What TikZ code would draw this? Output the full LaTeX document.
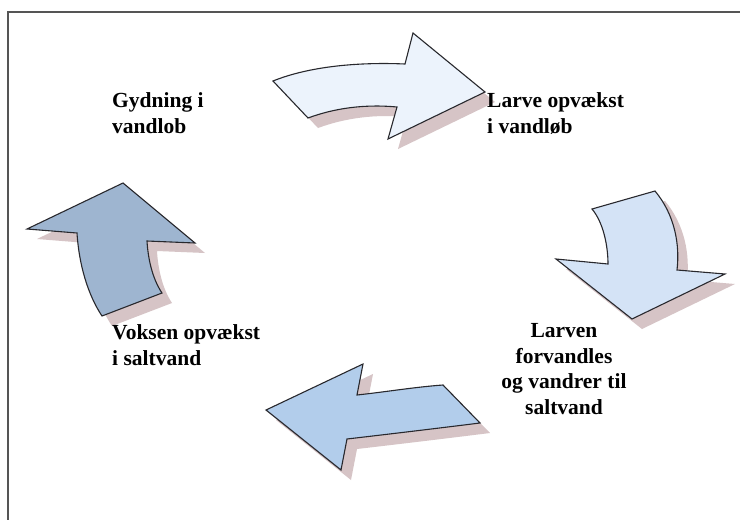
\documentclass[tikz,border=0pt]{standalone}
\usepackage{fontspec}
\setmainfont{Liberation Serif}
\usetikzlibrary{positioning}
\definecolor{framecol}{RGB}{85,85,85}
\definecolor{edgecol}{RGB}{40,40,45}
\definecolor{shadowcol}{RGB}{214,196,198}
\definecolor{topcol}{RGB}{236,243,252}
\definecolor{rightcol}{RGB}{212,227,246}
\definecolor{bottomcol}{RGB}{178,205,235}
\definecolor{leftcol}{RGB}{158,181,208}
\newcommand{\arrowtop}{(273,81) .. controls (310,66) and (360,62) .. (405,64) -- (413,33) -- (485,92) -- (388,139) -- (397,107) .. controls (365,104) and (335,108) .. (308,118) -- cycle}
\newcommand{\arrowright}{(592,209) -- (655,191) .. controls (675,215) and (680,245) .. (677,270) -- (725,274) -- (632,319) -- (556,259) -- (608,264) .. controls (608,245) and (603,222) .. (592,209) -- cycle}
\newcommand{\arrowbottom}{(266,410) -- (363,364) -- (357,395) .. controls (385,392) and (415,387) .. (443,385) -- (480,423) .. controls (440,428) and (390,434) .. (347,439) -- (341,470) -- cycle}
\newcommand{\arrowleft}{(123,183) -- (195,243) -- (147,241) .. controls (148,258) and (152,278) .. (162,293) -- (102,316) .. controls (88,295) and (79,265) .. (77,233) -- (27,229) -- cycle}

\begin{document}
\begin{tikzpicture}[x=1pt, y=-1pt,
    blockarrow/.style={draw=edgecol, line width=1.1pt, line join=miter},
    dropshadow/.style={fill=shadowcol, shift={(10,10)}},
    stagetext/.style={font=\bfseries\fontsize{21.5}{25.5}\selectfont, inner sep=0pt, align=left},
]
\fill[white] (0,0) rectangle (740,520);
\useasboundingbox (0,0) rectangle (740,520);
\draw[framecol, line width=1.4pt] (740,12) -- (8,12) -- (8,520);

\fill[dropshadow] \arrowtop;
\fill[dropshadow] \arrowright;
\fill[dropshadow] \arrowbottom;
\fill[dropshadow] \arrowleft;
\draw[blockarrow, fill=topcol] \arrowtop;
\draw[blockarrow, fill=rightcol] \arrowright;
\draw[blockarrow, fill=bottomcol] \arrowbottom;
\draw[blockarrow, fill=leftcol] \arrowleft;

\node[stagetext, anchor=base west] (spawn) at (112,133) {Gydning i\\vandlob};
\node[stagetext, anchor=base west] (larva) at (487,133) {Larve opvækst\\i vandløb};
\node[stagetext, align=center, anchor=base] (smolt) at (564,414) {Larven\\forvandles\\og vandrer til\\saltvand};
\node[stagetext, anchor=base west] (adult) at (112,365) {Voksen opvækst\\i saltvand};
\end{tikzpicture}
\end{document}
